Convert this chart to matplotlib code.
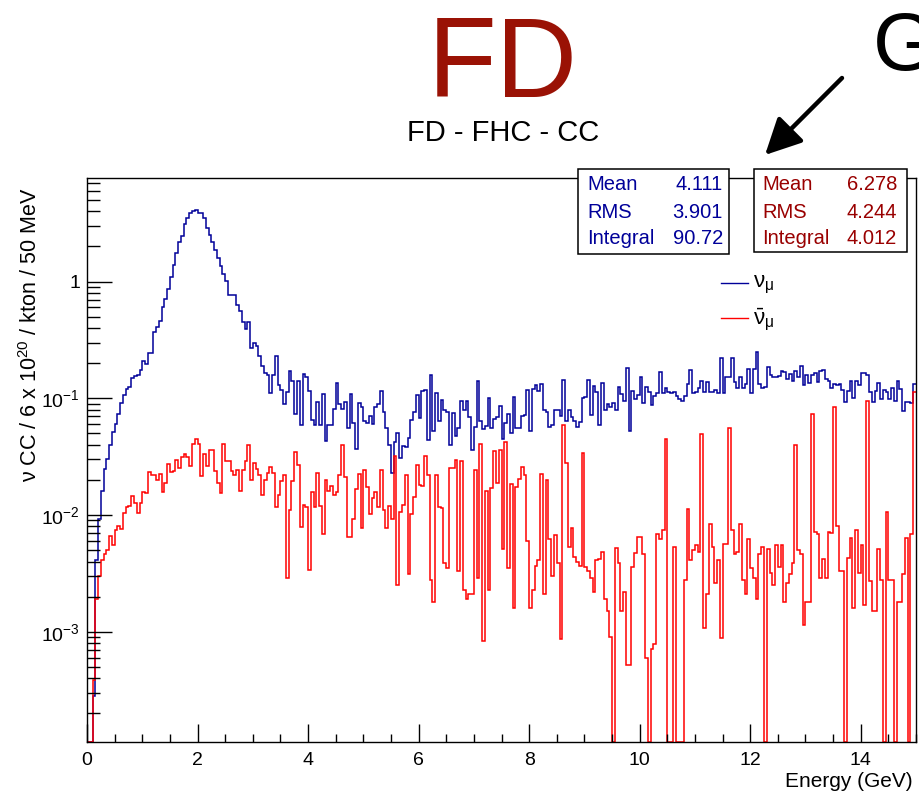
import numpy as np
import matplotlib
matplotlib.use("Agg")
import matplotlib.pyplot as plt
from matplotlib.patches import Rectangle
from matplotlib.lines import Line2D
from matplotlib.ticker import LogLocator, FixedLocator, MultipleLocator, FuncFormatter

plt.rcParams['font.family'] = ['Liberation Sans', 'DejaVu Sans']
plt.rcParams['mathtext.fontset'] = 'custom'
plt.rcParams['mathtext.rm'] = 'Liberation Sans'
plt.rcParams['mathtext.it'] = 'Liberation Sans:italic'
plt.rcParams['mathtext.default'] = 'regular'

# binning: 0-15 GeV in 50 MeV bins
E_MIN, E_MAX, N_BINS = 0.0, 15.0, 300

# numu CC / 6e20 POT / kton / 50 MeV
numu = [
    0, 0, 0.00028, 0.0041, 0.0093, 0.016, 0.025, 0.030, 0.040, 0.051,
    0.060, 0.074, 0.091, 0.107, 0.12, 0.126, 0.15, 0.155, 0.158, 0.174,
    0.21, 0.195, 0.245, 0.245, 0.37, 0.41, 0.46, 0.60, 0.71, 0.87,
    1.10, 1.38, 1.74, 2.19, 2.45, 3.09, 3.47, 3.89, 3.98, 4.07,
    3.89, 3.89, 3.47, 2.88, 2.51, 2.19, 1.86, 1.58, 1.35, 1.17,
    1.02, 0.76, 0.77, 0.76, 0.63, 0.56, 0.45, 0.39, 0.45, 0.27,
    0.30, 0.28, 0.23, 0.19, 0.166, 0.158, 0.112, 0.158, 0.23, 0.13,
    0.118, 0.089, 0.114, 0.17, 0.14, 0.074, 0.14, 0.059, 0.162, 0.152,
    0.116, 0.065, 0.059, 0.093, 0.059, 0.108, 0.043, 0.059, 0.059, 0.081,
    0.134, 0.089, 0.081, 0.093, 0.056, 0.108, 0.062, 0.037, 0.091, 0.085,
    0.064, 0.062, 0.071, 0.060, 0.085, 0.090, 0.116, 0.076, 0.056, 0.040,
    0.023, 0.042, 0.050, 0.031, 0.039, 0.038, 0.046, 0.065, 0.076, 0.106,
    0.068, 0.116, 0.118, 0.044, 0.158, 0.052, 0.112, 0.064, 0.097, 0.080,
    0.076, 0.040, 0.075, 0.048, 0.056, 0.095, 0.079, 0.095, 0.069, 0.036,
    0.057, 0.14, 0.064, 0.055, 0.058, 0.10, 0.056, 0.066, 0.069, 0.086,
    0.045, 0.062, 0.074, 0.050, 0.102, 0.056, 0.056, 0.071, 0.072, 0.118,
    0.052, 0.121, 0.13, 0.116, 0.132, 0.080, 0.076, 0.057, 0.059, 0.079,
    0.080, 0.071, 0.144, 0.064, 0.080, 0.069, 0.064, 0.057, 0.063, 0.10,
    0.102, 0.144, 0.072, 0.127, 0.114, 0.059, 0.134, 0.080, 0.090, 0.085,
    0.092, 0.080, 0.124, 0.109, 0.095, 0.183, 0.053, 0.116, 0.099, 0.106,
    0.153, 0.092, 0.124, 0.114, 0.088, 0.104, 0.11, 0.167, 0.11, 0.123,
    0.114, 0.11, 0.114, 0.104, 0.099, 0.095, 0.104, 0.132, 0.174, 0.11,
    0.114, 0.123, 0.142, 0.114, 0.137, 0.114, 0.114, 0.118, 0.11, 0.223,
    0.11, 0.153, 0.153, 0.223, 0.137, 0.123, 0.153, 0.123, 0.132, 0.177,
    0.11, 0.179, 0.25, 0.132, 0.123, 0.124, 0.186, 0.158, 0.153, 0.153,
    0.155, 0.170, 0.167, 0.147, 0.162, 0.14, 0.170, 0.153, 0.19, 0.129,
    0.158, 0.134, 0.158, 0.164, 0.137, 0.170, 0.174, 0.147, 0.14, 0.123,
    0.132, 0.13, 0.132, 0.118, 0.093, 0.116, 0.142, 0.10, 0.142, 0.129,
    0.164, 0.164, 0.158, 0.114, 0.093, 0.116, 0.134, 0.099, 0.118, 0.114,
    0.099, 0.123, 0.095, 0.14, 0.121, 0.078, 0.093, 0.093, 0.092, 0.132,
]

# numubar CC (wrong sign component)
numubar = [
    0, 0, 0.00039, 0.0019, 0.0030, 0.0041, 0.0046, 0.0050, 0.0066, 0.0055,
    0.0074, 0.0081, 0.0076, 0.0105, 0.0117, 0.012, 0.0145, 0.0126, 0.0105, 0.0126,
    0.0158, 0.0155, 0.0234, 0.0219, 0.0219, 0.020, 0.0224, 0.0158, 0.019, 0.0275,
    0.0234, 0.024, 0.0295, 0.0251, 0.0316, 0.0331, 0.0316, 0.0263, 0.0407, 0.0447,
    0.0407, 0.0214, 0.0331, 0.0263, 0.0363, 0.0363, 0.024, 0.019, 0.0155, 0.041,
    0.029, 0.029, 0.024, 0.022, 0.0245, 0.016, 0.0245, 0.029, 0.040, 0.020,
    0.028, 0.025, 0.022, 0.015, 0.020, 0.023, 0.026, 0.023, 0.0118, 0.015,
    0.0195, 0.022, 0.0029, 0.011, 0.0195, 0.035, 0.027, 0.0079, 0.0123, 0.0118,
    0.0034, 0.0158, 0.0118, 0.023, 0.012, 0.0069, 0.020, 0.0162, 0.0178, 0.015,
    0.0158, 0.022, 0.040, 0.021, 0.0065, 0.0065, 0.0093, 0.0167, 0.0224, 0.0078,
    0.0245, 0.0174, 0.0103, 0.0141, 0.0158, 0.0118, 0.0245, 0.011, 0.0078, 0.012,
    0.0093, 0.032, 0.0025, 0.0107, 0.0123, 0.022, 0.0031, 0.0103, 0.0143, 0.027,
    0.018, 0.0178, 0.032, 0.022, 0.0028, 0.0018, 0.022, 0.0118, 0.0115, 0.0039,
    0.0035, 0.0254, 0.0255, 0.0295, 0.0033, 0.029, 0.0023, 0.0019, 0.0021, 0.0021,
    0.0245, 0.0029, 0.041, 0.00083, 0.016, 0.0023, 0.017, 0.0355, 0.019, 0.036,
    0.0051, 0.042, 0.0035, 0.0185, 0.0016, 0.0174, 0.0204, 0.026, 0.022, 0.0060,
    0.0016, 0.0023, 0.0037, 0.0041, 0.0225, 0.0021, 0.020, 0.0062, 0.0030, 0.0067,
    0.0039, 0.00087, 0.059, 0.028, 0.0053, 0.0078, 0.0044, 0.0040, 0.0037, 0.034,
    0.0036, 0.0033, 0.0029, 0.0022, 0.0041, 0.0042, 0.0048, 0.0019, 0.0015, 0.00091,
    0, 0.0052, 0.0039, 0.0015, 0.0022, 0.00052, 0.00052, 0.0036, 0.0047, 0.0065,
    0.0065, 0.0046, 0.0006, 0, 0.00072, 0.00078, 0.0069, 0.0062, 0.0074, 0.045,
    0, 0, 0.0053, 0, 0, 0, 0.0028, 0.0112, 0.0041, 0.0050,
    0.0055, 0.0048, 0.049, 0.00107, 0.0021, 0.0084, 0.0053, 0.0026, 0.0041, 0.00089,
    0.0056, 0.0056, 0.056, 0.0074, 0.0046, 0.0048, 0.0084, 0.0028, 0.0021, 0.0062,
    0.0035, 0.0029, 0.0019, 0.0046, 0.0053, 0, 0.0051, 0.0032, 0.0025, 0.0055,
    0.0036, 0.0055, 0.0018, 0.0026, 0.0031, 0.0039, 0.040, 0.0050, 0.0046, 0.00115,
    0.0018, 0.0018, 0.074, 0.0071, 0.0069, 0.0029, 0.0042, 0.0029, 0.0071, 0.0070,
    0.084, 0.0080, 0.0033, 0.0033, 0, 0.0043, 0.0064, 0.0016, 0.0074, 0.0032,
    0.0055, 0.0017, 0.095, 0.0027, 0.0015, 0.0015, 0.0051, 0.0028, 0, 0.0107,
    0.0028, 0.0028, 0, 0.0018, 0.0018, 0.0031, 0.0064, 0, 0.0069, 0.114,
]

stat_labels = ["Mean", "RMS", "Integral"]
numu_stats = ["4.111", "3.901", "90.72"]
numubar_stats = ["6.278", "4.244", "4.012"]

BLUE = "#000099"
RED = "#ff0000"
DARKRED = "#990000"

W, H = 919, 796
fig = plt.figure(figsize=(W / 100, H / 100), dpi=100)


def fx(px):
    return px / W


def fy(py):
    return 1 - py / H


ax = fig.add_axes([fx(87), fy(742), fx(916) - fx(87), fy(178) - fy(742)])

ylo, yhi = 1.14e-4, 7.7
edges = np.linspace(E_MIN, E_MAX, N_BINS + 1)
numu_a = np.array(numu, dtype=float)
numubar_a = np.array(numubar, dtype=float)
ax.stairs(np.where(numu_a > 0, numu_a, ylo), edges, color=BLUE, lw=1.1, baseline=None)
ax.stairs(np.where(numubar_a > 0, numubar_a, ylo), edges, color=RED, lw=1.1, baseline=None)

ax.set_yscale("log")
ax.set_xlim(E_MIN, E_MAX)
ax.set_ylim(ylo, yhi)

ax.xaxis.set_major_locator(MultipleLocator(2))
ax.xaxis.set_minor_locator(MultipleLocator(0.5))
ax.yaxis.set_major_locator(FixedLocator([1e-3, 1e-2, 1e-1, 1]))
ax.yaxis.set_minor_locator(LogLocator(base=10, subs=np.arange(2, 10), numticks=20))


def ylab(v, pos):
    if abs(v - 1) < 1e-9:
        return "1"
    return r"$10^{%d}$" % int(round(np.log10(v)))


ax.yaxis.set_major_formatter(FuncFormatter(ylab))
ax.tick_params(axis="x", which="major", direction="in", length=13, width=1.0,
               labelsize=14, pad=7, top=False)
ax.tick_params(axis="x", which="minor", direction="in", length=6, width=1.0, top=False)
ax.tick_params(axis="y", which="major", direction="in", length=18, width=1.0,
               labelsize=14, pad=5, right=False)
ax.tick_params(axis="y", which="minor", direction="in", length=9, width=1.0, right=False)
for s in ax.spines.values():
    s.set_linewidth(1.0)

# axis titles
fig.text(fx(913), fy(787), "Energy (GeV)", ha="right", va="baseline", fontsize=15)
fig.text(fx(31), fy(335), "ν CC / 6 x 10$^{20}$ / kton / 50 MeV", rotation=90,
         ha="center", va="center", fontsize=15.5)

# titles
fig.text(fx(503), fy(97), "FD", ha="center", va="baseline", fontsize=81, color="#9a1205")
fig.text(fx(503), fy(141), "FD - FHC - CC", ha="center", va="baseline", fontsize=21)
fig.text(fx(873), fy(70), "G", ha="left", va="baseline", fontsize=59)

ax.annotate("", xy=(765, H - 155), xytext=(842, H - 78), xycoords="figure pixels",
            textcoords="figure pixels", annotation_clip=False,
            arrowprops=dict(arrowstyle="-|>,head_length=1.0,head_width=0.5", lw=3.2,
                            color="black", mutation_scale=22, shrinkA=0, shrinkB=0))

# stat boxes
boxes = [
    (578, 729, 169, 254, 587, 723, numu_stats, BLUE),
    (754, 907, 169, 252, 762, 897, numubar_stats, DARKRED),
]
rows_y = [185, 212, 238]
for x0, x1, y0, y1, tl, tr, vals, col in boxes:
    fig.patches.append(Rectangle((fx(x0), fy(y1)), fx(x1) - fx(x0), fy(y0) - fy(y1),
                                 transform=fig.transFigure, facecolor="white",
                                 edgecolor="black", lw=1.1, zorder=5))
    for lab, val, ry in zip(stat_labels, vals, rows_y):
        fig.text(fx(tl), fy(ry), lab, ha="left", va="center", fontsize=14.5,
                 color=col, zorder=6)
        fig.text(fx(tr), fy(ry), val, ha="right", va="center", fontsize=14.5,
                 color=col, zorder=6)

# legend
for ly, col, lab in [(283, BLUE, r"$\nu_{\mu}$"), (318, RED, r"$\bar{\nu}_{\mu}$")]:
    fig.add_artist(Line2D([fx(721), fx(748)], [fy(ly), fy(ly)], color=col, lw=1.0))
    fig.text(fx(753), fy(ly + 2), lab, ha="left", va="center", fontsize=16,
             math_fontfamily="stix")

fig.savefig("out.png", dpi=100)
